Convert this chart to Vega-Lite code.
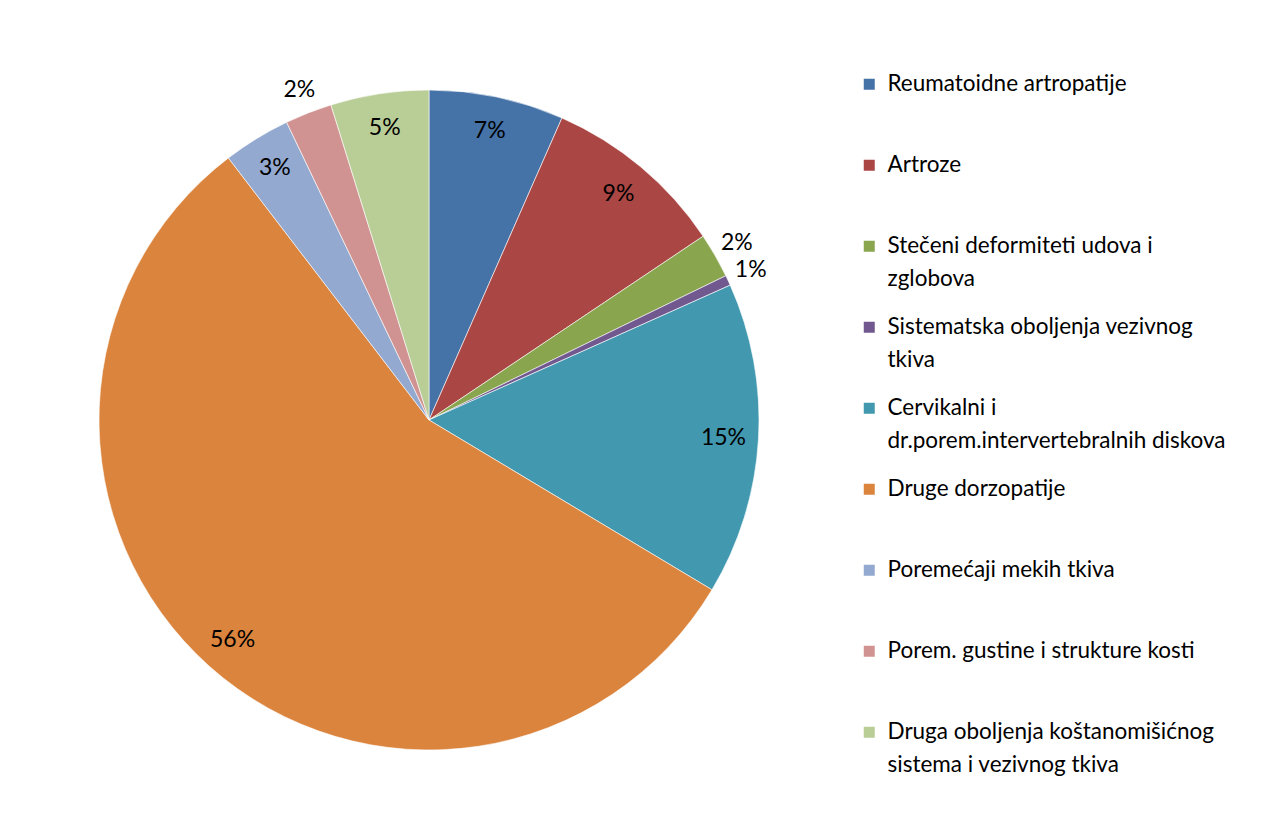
{
  "$schema": "https://vega.github.io/schema/vega-lite/v6.json",
  "width": 842,
  "height": 820,
  "autosize": {"type": "pad"},
  "padding": {"left": 8, "top": 10, "right": 0, "bottom": 0},
  "background": "white",
  "config": {
    "view": {"stroke": null},
    "font": "Lato",
    "style": {"guide-label": {"lineHeight": 33}}
  },
  "data": {
    "values": [
      {"rank": 1, "category": "Reumatoidne artropatije", "value": 6.6, "label": "7%"},
      {"rank": 2, "category": "Artroze", "value": 9.0, "label": "9%"},
      {"rank": 3, "category": "Stečeni deformiteti udova i zglobova", "value": 2.2, "label": "2%"},
      {"rank": 4, "category": "Sistematska oboljenja vezivnog tkiva", "value": 0.5, "label": "1%"},
      {"rank": 5, "category": "Cervikalni i dr.porem.intervertebralnih diskova", "value": 15.3, "label": "15%"},
      {"rank": 6, "category": "Druge dorzopatije", "value": 56.0, "label": "56%"},
      {"rank": 7, "category": "Poremećaji mekih tkiva", "value": 3.3, "label": "3%"},
      {"rank": 8, "category": "Porem. gustine i strukture kosti", "value": 2.3, "label": "2%"},
      {"rank": 9, "category": "Druga oboljenja koštanomišićnog sistema i vezivnog tkiva", "value": 4.8, "label": "5%"}
    ]
  },
  "encoding": {
    "theta": {"field": "value", "type": "quantitative", "stack": true},
    "order": {"field": "rank", "type": "quantitative", "sort": "ascending"}
  },
  "layer": [
    {
      "mark": {"type": "arc", "outerRadius": 330, "stroke": "white", "strokeWidth": 0.6},
      "encoding": {
        "color": {
          "field": "category",
          "type": "nominal",
          "scale": {
            "domain": [
              "Reumatoidne artropatije",
              "Artroze",
              "Stečeni deformiteti udova i zglobova",
              "Sistematska oboljenja vezivnog tkiva",
              "Cervikalni i dr.porem.intervertebralnih diskova",
              "Druge dorzopatije",
              "Poremećaji mekih tkiva",
              "Porem. gustine i strukture kosti",
              "Druga oboljenja koštanomišićnog sistema i vezivnog tkiva"
            ],
            "range": ["#4572A7", "#AA4643", "#89A54E", "#71588F", "#4198AF", "#DB843D", "#93A9CF", "#D19392", "#B9CD96"]
          },
          "legend": {
            "title": null,
            "orient": "none",
            "legendX": 850,
            "legendY": 63,
            "padding": 0,
            "symbolType": "square",
            "symbolSize": 121,
            "symbolStrokeWidth": 0,
            "labelFont": "Lato",
            "labelFontSize": 22.5,
            "labelColor": "#000000",
            "labelLimit": 0,
            "labelOffset": 7,
            "labelBaseline": "middle",
            "rowPadding": 25,
            "labelExpr": "datum.label == 'Stečeni deformiteti udova i zglobova' ? ['Stečeni deformiteti udova i', 'zglobova'] : datum.label == 'Sistematska oboljenja vezivnog tkiva' ? ['Sistematska oboljenja vezivnog', 'tkiva'] : datum.label == 'Cervikalni i dr.porem.intervertebralnih diskova' ? ['Cervikalni i', 'dr.porem.intervertebralnih diskova'] : datum.label == 'Druga oboljenja koštanomišićnog sistema i vezivnog tkiva' ? ['Druga oboljenja koštanomišićnog', 'sistema i vezivnog tkiva'] : [datum.label, ' ']"
          }
        }
      }
    },
    {
      "mark": {"type": "text", "radius": 295, "fontSize": 23, "font": "Lato", "color": "#000000"},
      "encoding": {
        "detail": {"field": "category", "type": "nominal"},
        "text": {"condition": {"test": "datum.value >= 3", "field": "label"}, "value": ""}
      }
    },
    {
      "mark": {"type": "text", "radius": 355, "fontSize": 23, "font": "Lato", "color": "#000000"},
      "encoding": {
        "detail": {"field": "category", "type": "nominal"},
        "text": {"condition": {"test": "datum.value < 3", "field": "label"}, "value": ""}
      }
    }
  ]
}
